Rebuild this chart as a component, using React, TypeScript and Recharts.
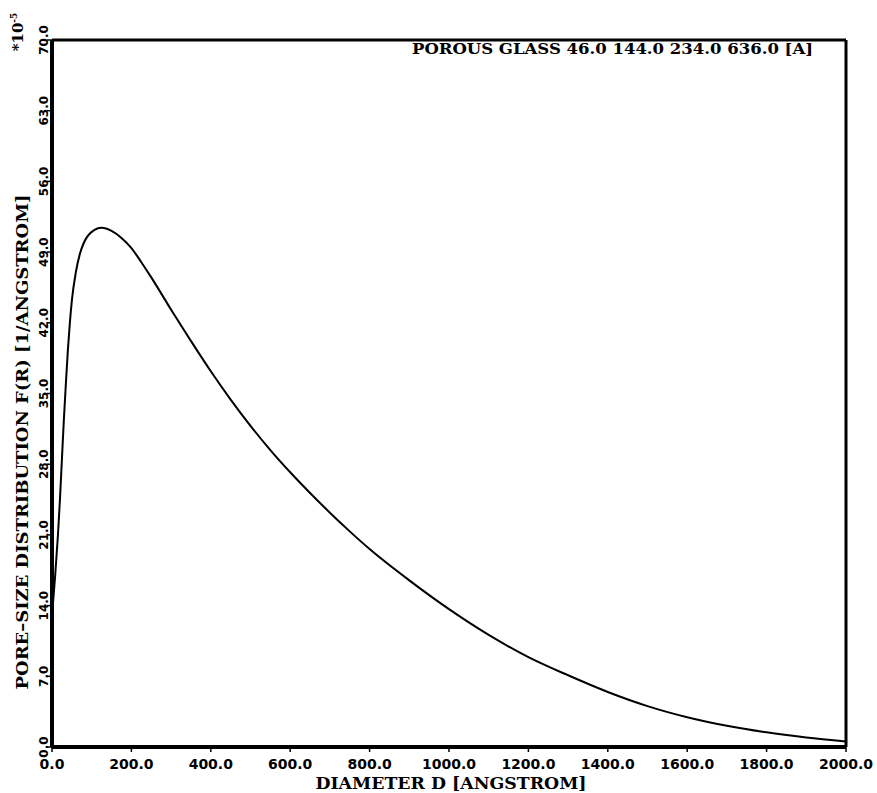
import { Customized, Line, LineChart, ReferenceLine, XAxis, YAxis } from "recharts";

// pore diameter D [angstrom] and distribution F(R) (x 10^-5)
const diameters = [
  0, 8, 15, 20, 25, 30, 35, 40, 45, 50, 60, 70, 80, 100, 125, 150, 175, 200, 225, 250, 300, 350,
  400, 450, 500, 550, 600, 650, 700, 750, 800, 900, 1000, 1100, 1200, 1300, 1400, 1500, 1600,
  1700, 1800, 1900, 2000
];
const distribution = [
  13, 17, 21, 24.5, 28.5, 32.5, 36, 39.3, 42, 44.2, 47, 48.8, 49.9, 51, 51.4, 51.1, 50.4, 49.4,
  48.0, 46.5, 43.3, 40.2, 37.2, 34.4, 31.8, 29.4, 27.2, 25.15, 23.2, 21.35, 19.6, 16.5, 13.65,
  11.1, 8.9, 7.1, 5.45, 4.05, 2.95, 2.1, 1.45, 0.95, 0.55
];
const xTicks = [0, 200, 400, 600, 800, 1000, 1200, 1400, 1600, 1800, 2000];
const yTicks = [0, 7, 14, 21, 28, 35, 42, 49, 56, 63, 70];

const title = "POROUS GLASS  46.0 144.0 234.0 636.0 [A]";
const xLabel = "DIAMETER D [ANGSTROM]";
const yLabel = "PORE\u2013SIZE DISTRIBUTION F(R) [1/ANGSTROM]";

const chartData = diameters.map((d, i) => ({ d, f: distribution[i] }));

const tickFont = "'DejaVu Sans', sans-serif";
const labelFont = "'DejaVu Serif', serif";

function XTick({ x, y, payload }: any) {
  return (
    <text x={x} y={y + 15} textAnchor="middle" fontFamily={tickFont} fontWeight="bold" fontSize={14} fill="#000">
      {Number(payload.value).toFixed(1)}
    </text>
  );
}

function YTick({ y, payload }: any) {
  return (
    <text
      x={48}
      y={y}
      transform={`rotate(-90, 48, ${y})`}
      textAnchor="middle"
      fontFamily={tickFont}
      fontWeight="bold"
      fontSize={12}
      fill="#000"
    >
      {Number(payload.value).toFixed(1)}
    </text>
  );
}

function Texts() {
  return (
    <g fill="#000">
      <text x={412} y={54} fontFamily={labelFont} fontWeight="bold" fontSize={15} textLength={401} lengthAdjust="spacingAndGlyphs">
        {title}
      </text>
      <text x={451} y={789} textAnchor="middle" fontFamily={labelFont} fontWeight="bold" fontSize={16} textLength={271} lengthAdjust="spacingAndGlyphs">
        {xLabel}
      </text>
      <text
        x={28}
        y={442}
        transform="rotate(-90, 28, 442)"
        textAnchor="middle"
        fontFamily={labelFont}
        fontWeight="bold"
        fontSize={16}
        textLength={495}
        lengthAdjust="spacingAndGlyphs"
      >
        {yLabel}
      </text>
      <text x={23} y={32} transform="rotate(-90, 23, 32)" textAnchor="middle" fontFamily={labelFont} fontWeight="bold" fontSize={15}>
        *10
        <tspan dy={-6} fontSize={9}>-5</tspan>
      </text>
    </g>
  );
}

export default function App() {
  return (
    <div style={{ position: "absolute", left: 0, top: 0, width: 877, height: 793, background: "#fff" }}>
      <LineChart width={877} height={793} data={chartData} margin={{ top: 40, right: 31, left: 0, bottom: 0 }}>
        <XAxis
          dataKey="d"
          type="number"
          domain={[0, 2000]}
          ticks={xTicks}
          height={46}
          axisLine={{ stroke: "#000", strokeWidth: 4 }}
          tickLine={{ stroke: "#000", strokeWidth: 1.5 }}
          tickSize={5}
          tick={<XTick />}
          interval={0}
        />
        <YAxis
          type="number"
          domain={[0, 70]}
          ticks={yTicks}
          width={52}
          axisLine={{ stroke: "#000", strokeWidth: 4 }}
          tickLine={{ stroke: "#000", strokeWidth: 1.5 }}
          tickSize={5}
          tick={<YTick />}
          interval={0}
        />
        <ReferenceLine y={70} stroke="#000" strokeWidth={3} />
        <ReferenceLine x={2000} stroke="#000" strokeWidth={3} />
        <Line
          type="monotone"
          dataKey="f"
          stroke="#000"
          strokeWidth={2}
          dot={false}
          isAnimationActive={false}
        />
        <Customized component={Texts} />
      </LineChart>
    </div>
  );
}
